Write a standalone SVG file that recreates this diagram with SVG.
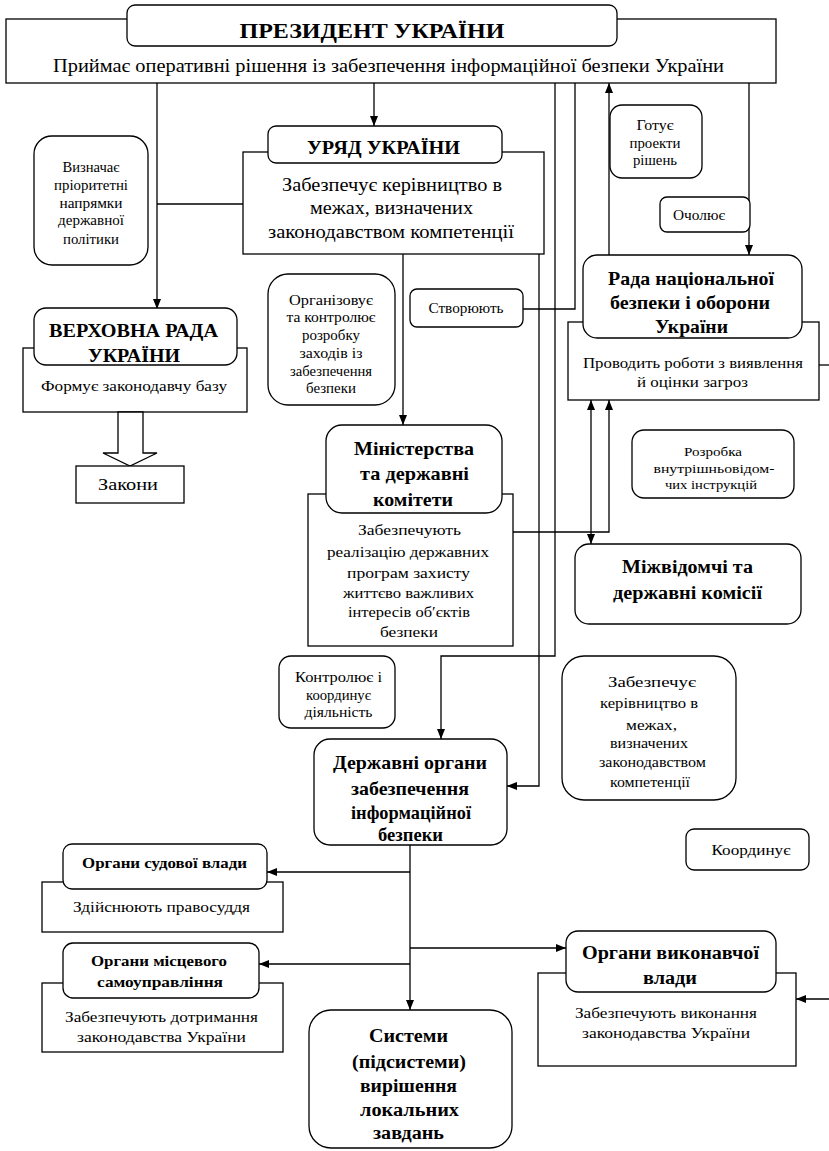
<svg xmlns="http://www.w3.org/2000/svg" width="829" height="1151" viewBox="0 0 829 1151">
<style>
rect{fill:#fff;stroke:#000;stroke-width:1.3}
text{font-family:"Liberation Serif","DejaVu Serif",serif;fill:#000;text-anchor:middle}
.b{font-weight:bold}
.c path{fill:none;stroke:#000;stroke-width:1.3}
</style>
<defs>
<marker id="ah" viewBox="0 0 10 8" refX="10" refY="4" markerWidth="10" markerHeight="8" orient="auto-start-reverse" markerUnits="userSpaceOnUse"><path d="M0,0 L10,4 L0,8 Z" fill="#000"/></marker>
</defs>
<rect width="829" height="1151" style="fill:#fff;stroke:none"/>

<g class="c" id="connectors">
<path d="M157,83 V309" marker-end="url(#ah)"/>
<path d="M157,204 H243"/>
<path d="M374,83 V126" marker-end="url(#ah)"/>
<path d="M403,254 V425" marker-end="url(#ah)"/>
<path d="M555,83 V656 H441 V739" marker-end="url(#ah)"/>
<path d="M539,254 V786 H507" marker-end="url(#ah)"/>
<path d="M575,83 V309 H523"/>
<path d="M609,255 V83" marker-end="url(#ah)"/>
<path d="M749,83 V255" marker-end="url(#ah)"/>
<path d="M819,365 H829"/>
<path d="M513,532 H609 V400" marker-end="url(#ah)"/>
<path d="M591,400 V544" marker-start="url(#ah)" marker-end="url(#ah)"/>
<path d="M410,845 V1010" marker-end="url(#ah)"/>
<path d="M410,872 H267" marker-end="url(#ah)"/>
<path d="M410,964 H259" marker-end="url(#ah)"/>
<path d="M410,948 H566" marker-end="url(#ah)"/>
<path d="M829,999 H796" marker-end="url(#ah)"/>
</g>

<g id="president">
<rect x="6" y="19" width="770" height="64"/>
<rect x="127" y="5" width="490" height="41" rx="8"/>
<text class="b" x="372" y="37.5" font-size="22" textLength="265" lengthAdjust="spacingAndGlyphs">ПРЕЗИДЕНТ УКРАЇНИ</text>
<text x="388.5" y="72" font-size="18" textLength="671" lengthAdjust="spacingAndGlyphs">Приймає оперативні рішення із забезпечення інформаційної безпеки України</text>
</g>

<g id="uryad">
<rect x="243" y="152" width="301" height="102"/>
<rect x="268" y="126" width="234" height="37" rx="8"/>
<text class="b" x="383.5" y="153.5" font-size="19" textLength="153" lengthAdjust="spacingAndGlyphs">УРЯД УКРАЇНИ</text>
<text x="392" y="190.5" font-size="18" textLength="220" lengthAdjust="spacingAndGlyphs">Забезпечує керівництво в</text>
<text x="391.5" y="213.5" font-size="18" textLength="163" lengthAdjust="spacingAndGlyphs">межах, визначених</text>
<text x="391" y="237.5" font-size="18" textLength="246" lengthAdjust="spacingAndGlyphs">законодавством компетенції</text>
</g>

<g id="vyznachaye" font-size="15">
<rect x="34" y="136" width="114" height="129" rx="18"/>
<text x="91" y="172" textLength="57" lengthAdjust="spacingAndGlyphs">Визначає</text>
<text x="91" y="190" textLength="74" lengthAdjust="spacingAndGlyphs">пріоритетні</text>
<text x="91" y="208" textLength="63" lengthAdjust="spacingAndGlyphs">напрямки</text>
<text x="91" y="225" textLength="66" lengthAdjust="spacingAndGlyphs">державної</text>
<text x="91" y="244" textLength="56" lengthAdjust="spacingAndGlyphs">політики</text>
</g>

<g id="verkhovna">
<rect x="23" y="348" width="224" height="64"/>
<rect x="34" y="308" width="203" height="57" rx="12"/>
<text class="b" x="133.5" y="336.5" font-size="19" textLength="169" lengthAdjust="spacingAndGlyphs">ВЕРХОВНА РАДА</text>
<text class="b" x="134" y="361.5" font-size="19" textLength="92" lengthAdjust="spacingAndGlyphs">УКРАЇНИ</text>
<text x="134" y="390.5" font-size="15" textLength="186" lengthAdjust="spacingAndGlyphs">Формує законодавчу базу</text>
<polygon points="118,412 143,412 143,453 157,453 130,466 103,453 118,453" fill="#fff" stroke="#000" stroke-width="1.3"/>
</g>

<g id="zakony">
<rect x="76" y="466" width="108" height="37"/>
<text x="128" y="489.5" font-size="17" textLength="60" lengthAdjust="spacingAndGlyphs">Закони</text>
</g>

<g id="orhanizovuye" font-size="14.5">
<rect x="268" y="274" width="127" height="131" rx="20"/>
<text x="331" y="304.5" textLength="84" lengthAdjust="spacingAndGlyphs">Організовує</text>
<text x="331" y="321.5" textLength="89" lengthAdjust="spacingAndGlyphs">та контролює</text>
<text x="331" y="339.5" textLength="58" lengthAdjust="spacingAndGlyphs">розробку</text>
<text x="331" y="357.5" textLength="63" lengthAdjust="spacingAndGlyphs">заходів із</text>
<text x="331" y="375.5" textLength="82" lengthAdjust="spacingAndGlyphs">забезпечення</text>
<text x="331" y="392.5" textLength="50" lengthAdjust="spacingAndGlyphs">безпеки</text>
</g>

<g id="stvoryuyut">
<rect x="410" y="289" width="113" height="38" rx="7"/>
<text x="466" y="312.5" font-size="14" textLength="75" lengthAdjust="spacingAndGlyphs">Створюють</text>
</g>

<g id="hotuye" font-size="14">
<rect x="610" y="105" width="92" height="73" rx="12"/>
<text x="655" y="130" textLength="37" lengthAdjust="spacingAndGlyphs">Готує</text>
<text x="655" y="147.5" textLength="51" lengthAdjust="spacingAndGlyphs">проекти</text>
<text x="655" y="164.5" textLength="44" lengthAdjust="spacingAndGlyphs">рішень</text>
</g>

<g id="ocholyuye">
<rect x="660" y="197" width="90" height="35" rx="7"/>
<text x="699" y="219.5" font-size="14" textLength="52" lengthAdjust="spacingAndGlyphs">Очолює</text>
</g>

<g id="rnbo">
<rect x="568" y="322" width="251" height="78"/>
<rect x="583" y="255" width="219" height="83" rx="14"/>
<text class="b" x="691" y="284.5" font-size="19" textLength="166" lengthAdjust="spacingAndGlyphs">Рада національної</text>
<text class="b" x="690" y="308.5" font-size="19" textLength="160" lengthAdjust="spacingAndGlyphs">безпеки і оборони</text>
<text class="b" x="691.5" y="332.5" font-size="19" textLength="73" lengthAdjust="spacingAndGlyphs">України</text>
<text x="693" y="367.5" font-size="15" textLength="220" lengthAdjust="spacingAndGlyphs">Проводить роботи з виявлення</text>
<text x="692.5" y="386.5" font-size="15" textLength="111" lengthAdjust="spacingAndGlyphs">й оцінки загроз</text>
</g>

<g id="rozrobka" font-size="13.5">
<rect x="632" y="430" width="162" height="68" rx="12"/>
<text x="713" y="455.5" textLength="58" lengthAdjust="spacingAndGlyphs">Розробка</text>
<text x="714" y="472.5" textLength="121" lengthAdjust="spacingAndGlyphs">внутрішньовідом-</text>
<text x="711" y="488.5" textLength="92" lengthAdjust="spacingAndGlyphs">чих інструкцій</text>
</g>

<g id="ministerstva">
<rect x="308" y="494" width="205" height="152"/>
<rect x="326" y="425" width="176" height="88" rx="16"/>
<text class="b" x="414" y="454.5" font-size="19" textLength="120" lengthAdjust="spacingAndGlyphs">Міністерства</text>
<text class="b" x="414.5" y="479.5" font-size="19" textLength="109" lengthAdjust="spacingAndGlyphs">та державні</text>
<text class="b" x="413" y="506" font-size="19" textLength="80" lengthAdjust="spacingAndGlyphs">комітети</text>
<text x="409.5" y="534.5" font-size="14.5" textLength="103" lengthAdjust="spacingAndGlyphs">Забезпечують</text>
<text x="408" y="556.5" font-size="14.5" textLength="162" lengthAdjust="spacingAndGlyphs">реалізацію державних</text>
<text x="408.5" y="577.5" font-size="14.5" textLength="123" lengthAdjust="spacingAndGlyphs">програм захисту</text>
<text x="408.5" y="597.5" font-size="14.5" textLength="131" lengthAdjust="spacingAndGlyphs">життєво важливих</text>
<text x="409" y="616.5" font-size="14.5" textLength="122" lengthAdjust="spacingAndGlyphs">інтересів об′єктів</text>
<text x="409" y="636.5" font-size="14.5" textLength="58" lengthAdjust="spacingAndGlyphs">безпеки</text>
</g>

<g id="mizhvidomchi">
<rect x="575" y="544" width="226" height="80" rx="14"/>
<text class="b" x="687.5" y="573" font-size="18" textLength="131" lengthAdjust="spacingAndGlyphs">Міжвідомчі та</text>
<text class="b" x="687.5" y="599" font-size="18" textLength="149" lengthAdjust="spacingAndGlyphs">державні комісії</text>
</g>

<g id="kontrolyuye" font-size="14">
<rect x="279" y="656" width="116" height="72" rx="12"/>
<text x="338.5" y="681.5" textLength="87" lengthAdjust="spacingAndGlyphs">Контролює і</text>
<text x="338.5" y="699.5" textLength="65" lengthAdjust="spacingAndGlyphs">координує</text>
<text x="338.5" y="716.5" textLength="68" lengthAdjust="spacingAndGlyphs">діяльність</text>
</g>

<g id="zabezpechuye" font-size="14">
<rect x="562" y="656" width="174" height="144" rx="22"/>
<text x="652" y="686.5" textLength="88" lengthAdjust="spacingAndGlyphs">Забезпечує</text>
<text x="649" y="707.5" textLength="98" lengthAdjust="spacingAndGlyphs">керівництво в</text>
<text x="651.5" y="729.5" textLength="51" lengthAdjust="spacingAndGlyphs">межах,</text>
<text x="649" y="747.5" textLength="78" lengthAdjust="spacingAndGlyphs">визначених</text>
<text x="652.5" y="766.5" textLength="107" lengthAdjust="spacingAndGlyphs">законодавством</text>
<text x="650" y="786.5" textLength="80" lengthAdjust="spacingAndGlyphs">компетенції</text>
</g>

<g id="derzhavni-orhany">
<rect x="314" y="739" width="193" height="106" rx="16"/>
<text class="b" x="410" y="769" font-size="19" textLength="154" lengthAdjust="spacingAndGlyphs">Державні органи</text>
<text class="b" x="410" y="795" font-size="19" textLength="118" lengthAdjust="spacingAndGlyphs">забезпечення</text>
<text class="b" x="411" y="819" font-size="19" textLength="120" lengthAdjust="spacingAndGlyphs">інформаційної</text>
<text class="b" x="410.5" y="841" font-size="19" textLength="65" lengthAdjust="spacingAndGlyphs">безпеки</text>
</g>

<g id="koordynuye">
<rect x="686" y="829" width="123" height="41" rx="8"/>
<text x="751" y="854.5" font-size="14" textLength="79" lengthAdjust="spacingAndGlyphs">Координує</text>
</g>

<g id="sudovi">
<rect x="42" y="882" width="241" height="50"/>
<rect x="63" y="844" width="204" height="45" rx="9"/>
<text class="b" x="164.5" y="868" font-size="14" textLength="165" lengthAdjust="spacingAndGlyphs">Органи судової влади</text>
<text x="161.5" y="912" font-size="14.5" textLength="177" lengthAdjust="spacingAndGlyphs">Здійснюють правосуддя</text>
</g>

<g id="mistsevi">
<rect x="42" y="983" width="241" height="69"/>
<rect x="63" y="943" width="196" height="55" rx="10"/>
<text class="b" x="159" y="966" font-size="14.5" textLength="136" lengthAdjust="spacingAndGlyphs">Органи місцевого</text>
<text class="b" x="160" y="987" font-size="14.5" textLength="126" lengthAdjust="spacingAndGlyphs">самоуправління</text>
<text x="161.5" y="1022" font-size="14.5" textLength="193" lengthAdjust="spacingAndGlyphs">Забезпечують дотримання</text>
<text x="161.5" y="1042" font-size="14.5" textLength="169" lengthAdjust="spacingAndGlyphs">законодавства України</text>
</g>

<g id="vykonavchi">
<rect x="538" y="973" width="258" height="93"/>
<rect x="566" y="931" width="210" height="61" rx="12"/>
<text class="b" x="670.5" y="959" font-size="18" textLength="177" lengthAdjust="spacingAndGlyphs">Органи виконавчої</text>
<text class="b" x="670" y="984" font-size="18" textLength="54" lengthAdjust="spacingAndGlyphs">влади</text>
<text x="666" y="1018" font-size="14.5" textLength="182" lengthAdjust="spacingAndGlyphs">Забезпечують виконання</text>
<text x="666" y="1038" font-size="14.5" textLength="168" lengthAdjust="spacingAndGlyphs">законодавства України</text>
</g>

<g id="systemy">
<rect x="309" y="1010" width="203" height="138" rx="22"/>
<text class="b" x="408.5" y="1042" font-size="18" textLength="79" lengthAdjust="spacingAndGlyphs">Системи</text>
<text class="b" x="409" y="1068" font-size="18" textLength="114" lengthAdjust="spacingAndGlyphs">(підсистеми)</text>
<text class="b" x="408.5" y="1092" font-size="18" textLength="97" lengthAdjust="spacingAndGlyphs">вирішення</text>
<text class="b" x="409.5" y="1116" font-size="18" textLength="99" lengthAdjust="spacingAndGlyphs">локальних</text>
<text class="b" x="408.5" y="1139" font-size="18" textLength="71" lengthAdjust="spacingAndGlyphs">завдань</text>
</g>
</svg>
